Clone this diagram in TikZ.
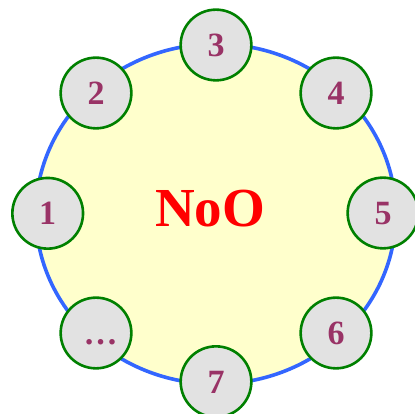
\documentclass[tikz,border=0pt]{standalone}
\usepackage{fontspec}
\setmainfont{Liberation Serif}
\definecolor{ringblue}{HTML}{3366FF}
\definecolor{ringfill}{HTML}{FFFFCC}
\definecolor{ringgreen}{HTML}{008000}
\definecolor{nodegrey}{HTML}{E2E2E2}
\definecolor{numcolor}{HTML}{993366}

\begin{document}
\begin{tikzpicture}[x=1pt, y=1pt,
	member/.style={circle, draw=ringgreen, fill=nodegrey, line width=2.6pt,
		minimum size=70.7pt, inner sep=0pt, text=numcolor,
		font=\fontsize{34}{40}\selectfont\bfseries, text height=23pt, text depth=0pt}]

		\useasboundingbox (0,0) rectangle (415,414);

		% the ring
		\draw[line width=3.6pt, draw=ringblue, fill=ringfill] (215.8,200) ellipse [x radius=180pt, y radius=170pt];
		\node[text=red, font=\fontsize{55}{60}\selectfont\bfseries] (title) at (210,205.7) {NoO};

		% members
		\node[member] (1) at (47.7,200.7) {1};
		\node[member] (2) at (96,321) {2};
		\node[member] (3) at (216,369) {3};
		\node[member] (4) at (336,321) {4};
		\node[member] (5) at (383,201) {5};
		\node[member] (6) at (336,81) {6};
		\node[member] (7) at (216,32.3) {7};
		\node[member] (8) at (96,81) {\hspace*{9pt}…};
		\end{tikzpicture}
\end{document}
